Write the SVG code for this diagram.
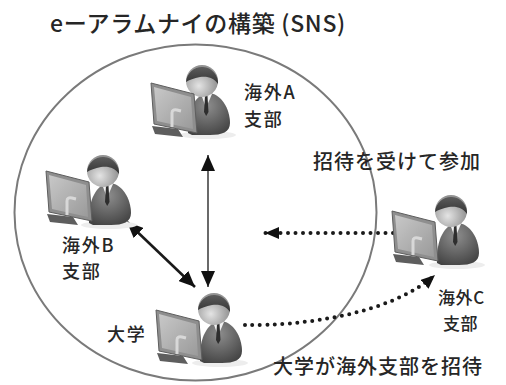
<svg xmlns="http://www.w3.org/2000/svg" xmlns:xlink="http://www.w3.org/1999/xlink" width="506" height="385" viewBox="0 0 506 385">
  <style>
    .t { font-family: "Noto Sans CJK JP", "Noto Sans", sans-serif; fill: #262626; font-weight: 500; }
    .title { font-size: 23px; letter-spacing: 0.7px; }
    .lbl { font-size: 18px; letter-spacing: 1.8px; }
    .lbl-s { font-size: 17px; letter-spacing: 0.6px; }
    .note { font-size: 20px; letter-spacing: 1px; }
    .ring { fill: none; stroke: #7a7a7a; stroke-width: 2; }
    .solid { fill: none; stroke: #444; stroke-width: 1.6; }
    .solid-bold { fill: none; stroke: #1a1a1a; stroke-width: 2.6; }
    .dots { fill: none; stroke: #1a1a1a; stroke-width: 4; stroke-linecap: round; stroke-dasharray: 0 7.5; }
  </style>
  <defs>
    <radialGradient id="face" cx="0.4" cy="0.65" r="0.6">
      <stop offset="0" stop-color="#e4e4e4"/>
      <stop offset="1" stop-color="#929292"/>
    </radialGradient>
    <linearGradient id="hair" x1="0" y1="0" x2="0" y2="1">
      <stop offset="0" stop-color="#5c5c5c"/>
      <stop offset="1" stop-color="#333"/>
    </linearGradient>
    <radialGradient id="suit" cx="0.45" cy="0.3" r="0.75">
      <stop offset="0" stop-color="#8e8e8e"/>
      <stop offset="1" stop-color="#444"/>
    </radialGradient>
    <linearGradient id="screen" x1="0" y1="0" x2="1" y2="1">
      <stop offset="0" stop-color="#c8c8c8"/>
      <stop offset="1" stop-color="#9a9a9a"/>
    </linearGradient>
    <marker id="tri" viewBox="0 0 16 14" refX="16" refY="7" markerWidth="16" markerHeight="14" markerUnits="userSpaceOnUse" orient="auto-start-reverse">
      <path d="M0,0 L16,7 L0,14 Z" fill="#111"/>
    </marker>
    <marker id="tri-s" viewBox="0 0 14 12" refX="14" refY="6" markerWidth="14" markerHeight="12" markerUnits="userSpaceOnUse" orient="auto-start-reverse">
      <path d="M0,0 L14,6 L0,12 Z" fill="#111"/>
    </marker>

    <!-- seated person; origin = centre of the head -->
    <g id="person">
      <ellipse cx="6" cy="54" rx="28" ry="4" fill="#ededed"/>
      <path d="M-14,52 C-15,28 -6,13 6,12 C19,12 28,28 28,42 C28,51 20,54 8,54 L-10,54 Z" fill="url(#suit)"/>
      <path d="M-1,13 L4,27 L10,13 Z" fill="#f2f2f2"/>
      <path d="M3,15 L5.5,15 L6.5,31 L4.2,35 L2,31 Z" fill="#2e2e2e"/>
      <circle cx="0" cy="0" r="16" fill="url(#face)"/>
      <path d="M-16,1 A16,16 0 1,1 16,3 C12,-3 6,-5 -2,-4 C-8,-3 -13,-1 -16,1 Z" fill="url(#hair)"/>
    </g>

    <!-- monitor on its stand, same origin as the person -->
    <g id="desk">
      <path d="M-58,44 L-32,47 L-27,55 L-55,52 Z" fill="#5e5e5e"/>
      <path d="M-59,1 L-16,12 L-13,51 L-56,42 Z" fill="#8e8e8e" stroke="#5e5e5e" stroke-width="1"/>
      <path d="M-56,5 L-19,15 L-17,47 L-53,39 Z" fill="url(#screen)"/>
      <path d="M-38,45 L-38,31 Q-38,27 -33,28 L-29,29" fill="none" stroke="#d8d8d8" stroke-width="3"/>
    </g>
  </defs>

  <rect width="506" height="385" fill="#fff"/>

  <text class="t title" x="50" y="32">eーアラムナイの構築 (SNS)</text>

  <ellipse class="ring" cx="195.5" cy="212.5" rx="181" ry="168"/>

  <g id="connectors">
    <line class="solid" x1="208" y1="155" x2="208" y2="287" marker-start="url(#tri)" marker-end="url(#tri)"/>
    <line class="solid-bold" x1="127" y1="222" x2="195" y2="287" marker-start="url(#tri)" marker-end="url(#tri)"/>
    <line class="dots" x1="393" y1="233" x2="265" y2="233" marker-end="url(#tri-s)"/>
    <path class="dots" d="M245,325 C300,326 390,315 435,275" marker-end="url(#tri-s)"/>
  </g>

  <g id="branch-a">
    <use xlink:href="#person" href="#person" transform="translate(202,81)"/>
    <use xlink:href="#desk" href="#desk" transform="translate(210,82)"/>
    <text class="t lbl" x="244" y="99">海外A</text>
    <text class="t lbl" x="244" y="126">支部</text>
  </g>

  <g id="branch-b">
    <use xlink:href="#person" href="#person" transform="translate(103,171)"/>
    <use xlink:href="#desk" href="#desk" transform="translate(105,170)"/>
    <text class="t lbl" x="62" y="252">海外B</text>
    <text class="t lbl" x="62" y="278">支部</text>
  </g>

  <g id="branch-c">
    <use xlink:href="#person" href="#person" transform="translate(451,211)"/>
    <use xlink:href="#desk" href="#desk" transform="translate(451,210)"/>
    <text class="t lbl-s" x="438" y="304">海外C</text>
    <text class="t lbl-s" x="443" y="330">支部</text>
  </g>

  <g id="university">
    <use xlink:href="#person" href="#person" transform="translate(214,309)"/>
    <use xlink:href="#desk" href="#desk" transform="translate(215,309)"/>
    <text class="t lbl" x="107" y="341">大学</text>
  </g>

  <text class="t note" x="313" y="169">招待を受けて参加</text>
  <text class="t note" x="273" y="374">大学が海外支部を招待</text>
</svg>
